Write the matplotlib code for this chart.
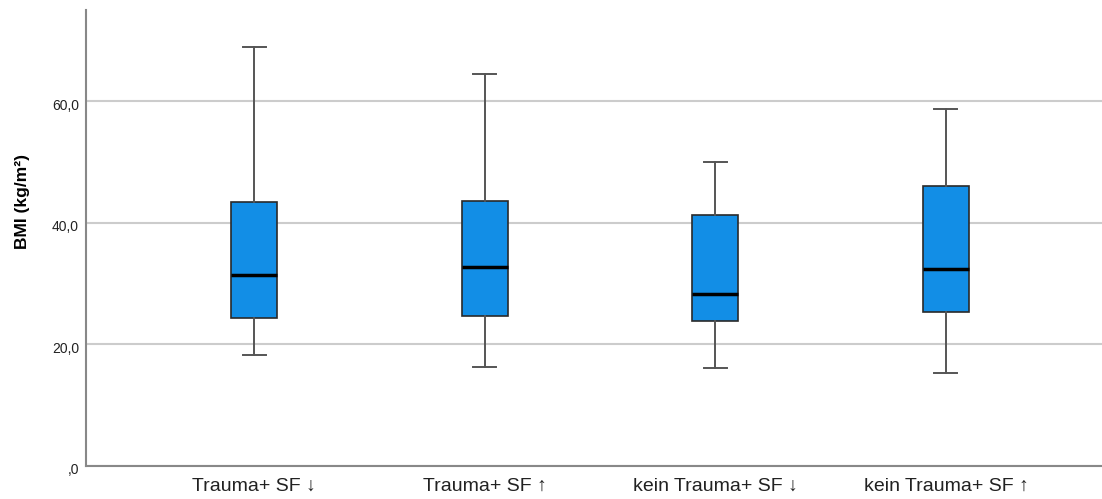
import matplotlib.pyplot as plt
import matplotlib.transforms as mtransforms

# Gruppen und Boxplot-Kennwerte
gruppen = ['Trauma+ SF ↓', 'Trauma+ SF ↑', 'kein Trauma+ SF ↓', 'kein Trauma+ SF ↑']
whisker_unten = [18.2, 16.3, 16.1, 15.3]
q1 = [24.3, 24.7, 23.8, 25.2]
median = [31.4, 32.7, 28.3, 32.4]
q3 = [43.4, 43.6, 41.2, 46.0]
whisker_oben = [68.9, 64.5, 49.9, 58.7]
y_ticks = [0, 20, 40, 60]
y_ticklabels = [',0', '20,0', '40,0', '60,0']

stats = []
for i in range(len(gruppen)):
    stats.append({'whislo': whisker_unten[i], 'q1': q1[i], 'med': median[i],
                  'q3': q3[i], 'whishi': whisker_oben[i], 'fliers': []})

fig = plt.figure(figsize=(11.02, 4.99), dpi=100)
ax = fig.add_axes([0.078, 0.067, 0.922, 0.913])

ax.set_axisbelow(True)
ax.yaxis.grid(True, color='#cccccc', linewidth=1.5)

pos = list(range(len(gruppen)))
ax.bxp(stats, positions=pos, widths=0.2, capwidths=0.1, patch_artist=True,
       showfliers=False,
       boxprops=dict(facecolor='#128ee6', edgecolor='#2a2a2a', linewidth=1.2),
       medianprops=dict(color='black', linewidth=2.5),
       whiskerprops=dict(color='#555555', linewidth=1.4),
       capprops=dict(color='#555555', linewidth=1.4))

ax.set_xlim(-0.729, 3.677)
ax.set_ylim(0, 75)
ax.set_yticks(y_ticks)
ax.set_yticklabels(y_ticklabels, fontsize=10, color='#222222', family=['Liberation Sans', 'DejaVu Sans'])
ax.set_xticks(pos)
ax.set_xticklabels(gruppen, fontsize=14, color='#222222',
                   family=['Liberation Sans Narrow', 'Liberation Sans', 'DejaVu Sans'])
ax.tick_params(axis='both', length=0)
ax.tick_params(axis='y', pad=5)
ax.tick_params(axis='x', pad=9)

# Y-Beschriftungen etwas unter die Gitterlinie schieben (wie bei SPSS)
versatz = mtransforms.ScaledTranslation(0, -3 / 100, fig.dpi_scale_trans)
for lbl in ax.get_yticklabels():
    lbl.set_transform(lbl.get_transform() + versatz)

# Achsentitel (bei SPSS etwas oberhalb der Mitte)
fig.text(23 / 1102, 1 - 201.5 / 499, 'BMI (kg/m²)', rotation=90, ha='center', va='center',
         fontsize=12.5, fontweight='bold', family=['Liberation Sans', 'DejaVu Sans'])

for s in ['top', 'right']:
    ax.spines[s].set_visible(False)
for s in ['left', 'bottom']:
    ax.spines[s].set_color('#888888')
    ax.spines[s].set_linewidth(1.5)

plt.savefig('out.png', dpi=100)
